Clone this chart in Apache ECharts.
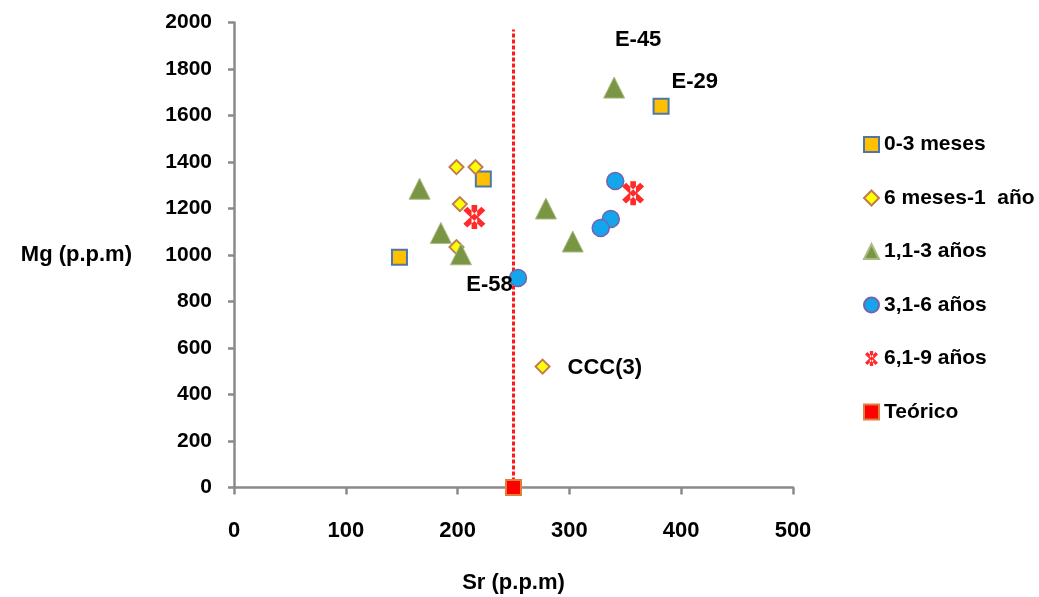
<!DOCTYPE html>
<html>
<head>
<meta charset="utf-8">
<script src="https://cdn.jsdelivr.net/npm/echarts@6/dist/echarts.min.js"></script>
<style>
  html, body { margin: 0; padding: 0; background: #fff; }
  #chart { width: 1039px; height: 597px; }
</style>
</head>
<body>
<div id="chart"></div>
<script>
// Sr / Mg concentrations (p.p.m) by age group
const seriesNames = ['0-3 meses', '6 meses-1  año', '1,1-3 años', '3,1-6 años', '6,1-9 años', 'Teórico'];

const meses0a3   = [[148, 990], [223, 1327], [382, 1640]];
const meses6a12  = [[199, 1378], [216, 1378], [202, 1219], [199, 1034], [276, 520]];
const anos1a3    = [[166, 1285], [185, 1095], [203, 1003], [279, 1200], [303, 1058], [340, 1720]];
const anos3a6    = [[341, 1318], [337, 1155], [328, 1116], [254, 901]];
const anos6a9    = [[215, 1163], [357, 1266]];
const teorico    = [[250, 0]];

// reference line at the theoretical Sr value
const teoricoLine = [[250, 0], [250, 1970]];

const xTicks = { min: 0, max: 500, step: 100 };
const yTicks = { min: 0, max: 2000, step: 200 };

// point annotations: [series index, point index, text]
const annotations = [
  [0, 2, 'E-29'],
  [1, 4, 'CCC(3)'],
  [2, 5, 'E-45'],
  [3, 3, 'E-58']
];

const FONT = 'Liberation Sans';
const labelStyles = {
  'E-29':   { position: 'right', offset: [-3, -24] },
  'CCC(3)': { position: 'right', offset: [12, 1] },
  'E-45':   { position: 'top', offset: [24, -21] },
  'E-58':   { position: 'left', offset: [9, 7] }
};

const asterisk = 'path://M-2.2,-10L2.2,-10L2.2,10L-2.2,10Z' +
  'M5.5,8.6L8.6,5.5L-5.5,-8.6L-8.6,-5.5Z' +
  'M-8.6,5.5L-5.5,8.6L8.6,-5.5L5.5,-8.6Z';

function withLabels(seriesIdx, values) {
  return values.map((v, i) => {
    const a = annotations.find(t => t[0] === seriesIdx && t[1] === i);
    if (!a) return v;
    const st = labelStyles[a[2]];
    return {
      value: v,
      label: {
        show: true, formatter: a[2], position: st.position, offset: st.offset,
        color: '#000', fontFamily: FONT, fontWeight: 'bold', fontSize: 22
      }
    };
  });
}

const styles = [
  { symbol: 'rect', symbolSize: 15, itemStyle: { color: '#FFC000', borderColor: '#4F76A8', borderWidth: 2 } },
  { symbol: 'diamond', symbolSize: 14, itemStyle: { color: '#FFFF00', borderColor: '#C07A55', borderWidth: 2 } },
  { symbol: 'triangle', symbolSize: 21, itemStyle: { color: '#7A9544', borderColor: '#A9BC84', borderWidth: 1 } },
  { symbol: 'circle', symbolSize: 17, itemStyle: { color: '#14A5EC', borderColor: '#7464A8', borderWidth: 1.5 } },
  { symbol: asterisk, symbolSize: [22, 24], itemStyle: { color: '#FF2A2A' } },
  { symbol: 'rect', symbolSize: 15, itemStyle: { color: '#FF0000', borderColor: '#E0803A', borderWidth: 2 } }
];

const allValues = [meses0a3, meses6a12, anos1a3, anos3a6, anos6a9, teorico];

const series = allValues.map((vals, i) => {
  const st = styles[i];
  return {
    name: seriesNames[i],
    type: 'scatter',
    data: withLabels(i, vals),
    symbol: st.symbol,
    symbolSize: st.symbolSize,
    itemStyle: Object.assign({ opacity: 1 }, st.itemStyle),
    z: 3
  };
});

// dotted vertical reference line drawn beneath the Teórico marker
series.push({
  name: 'ref',
  type: 'line',
  data: teoricoLine,
  symbol: 'none',
  lineStyle: { color: '#FF1A1A', width: 3, type: [4, 2], opacity: 1 },
  z: 2,
  silent: true
});

const axisColor = '#8A8A8A';
const tickFont = { color: '#000', fontFamily: FONT, fontWeight: 'bold', fontSize: 22 };
const plain = v => String(v);

const chart = echarts.init(document.getElementById('chart'), null, { renderer: 'canvas' });
chart.setOption({
  animation: false,
  backgroundColor: '#fff',
  grid: { left: 234, right: 246, top: 22.5, bottom: 109.5, containLabel: false, outerBoundsMode: 'none' },
  xAxis: {
    type: 'value', min: xTicks.min, max: xTicks.max, interval: xTicks.step,
    name: 'Sr (p.p.m)', nameLocation: 'middle', nameGap: 84,
    nameTextStyle: tickFont,
    axisLine: { show: true, onZero: false, lineStyle: { color: axisColor, width: 2.5 } },
    axisTick: { show: true, inside: false, length: 7, lineStyle: { color: axisColor, width: 2.5 } },
    axisLabel: Object.assign({ margin: 32, formatter: plain }, tickFont),
    splitLine: { show: false }
  },
  yAxis: {
    type: 'value', min: yTicks.min, max: yTicks.max, interval: yTicks.step,
    name: 'Mg (p.p.m)', nameLocation: 'middle', nameRotate: 0, nameGap: 102,
    nameTextStyle: Object.assign({ align: 'right', verticalAlign: 'middle' }, tickFont),
    axisLine: { show: true, onZero: false, lineStyle: { color: axisColor, width: 2.5 } },
    axisTick: { show: true, inside: false, length: 6, lineStyle: { color: axisColor, width: 2.5 } },
    axisLabel: Object.assign({ margin: 22, formatter: plain }, tickFont, { fontSize: 21 }),
    splitLine: { show: false }
  },
  legend: {
    data: seriesNames,
    orient: 'vertical',
    left: 858, top: 129,
    itemWidth: 15, itemHeight: 15,
    itemGap: 32.5,
    textStyle: { color: '#000', fontFamily: FONT, fontWeight: 'bold', fontSize: 21 }
  },
  series: series
});
</script>
</body>
</html>
